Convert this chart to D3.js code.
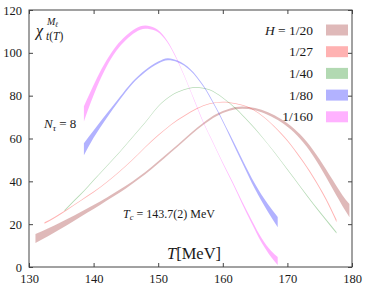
<!DOCTYPE html>
<html>
<head>
<meta charset="utf-8">
<script src="https://cdn.jsdelivr.net/npm/d3@7"></script>
<style>
  body { margin: 0; background: #fff; }
</style>
</head>
<body>
<svg id="chart" width="366" height="288" font-family="'Liberation Serif', 'DejaVu Serif', serif"></svg>
<script>
const xTicks = [130, 140, 150, 160, 170, 180];
const yTicks = [0, 20, 40, 60, 80, 100, 120];
const labels = ["1/20", "1/27", "1/40", "1/80", "1/160"];
const colors = ["rgba(176,80,80,0.4)", "rgba(255,0,0,0.3)", "rgba(0,128,0,0.3)", "rgba(0,0,255,0.3)", "rgba(255,0,255,0.3)"];
const serif = "Liberation Serif";

// H = 1/20
const T20   = [131, 133, 135, 137, 139, 141, 143, 145, 147, 149, 151, 153, 155, 157, 159, 161, 163, 165, 167, 169, 171, 173, 175, 177, 179, 179.6];
const chi20 = [13.3, 16.3, 19.5, 22.8, 26.3, 29.8, 33.5, 37.3, 41.6, 46.3, 51.4, 56.6, 62, 66.9, 70.9, 73.4, 74.4, 73.7, 71.6, 68.4, 63.8, 57.3, 48.6, 38.6, 28.8, 26.3];
const err20 = [2.1, 1.8, 1.5, 1.2, 1.0, 0.8, 0.7, 0.6, 0.5, 0.5, 0.5, 0.5, 0.5, 0.5, 0.5, 0.5, 0.5, 0.5, 0.6, 0.7, 0.9, 1.2, 1.6, 2.1, 2.7, 3.1];
// H = 1/27
const T27   = [132.4, 134, 136, 138, 140, 142, 144, 146, 148, 150, 152, 154, 156, 158, 160, 162, 164, 166, 168, 170, 172, 174, 176, 177.6];
const chi27 = [20.5, 23.2, 27, 31, 35, 39.5, 44.5, 50, 56, 61.5, 66.5, 70.5, 74, 76.3, 77, 76.3, 74.5, 70.8, 65.5, 59, 51, 42, 31.5, 21.5];
const err27 = [0.35, 0.3, 0.25, 0.2, 0.2, 0.2, 0.2, 0.2, 0.2, 0.2, 0.2, 0.2, 0.2, 0.2, 0.2, 0.2, 0.2, 0.2, 0.25, 0.3, 0.35, 0.4, 0.5, 0.65];
// H = 1/40
const T40   = [135.5, 137, 138.5, 140, 142, 144, 146, 148, 150, 152, 154, 155.8, 158, 160, 162, 164, 166, 168, 170, 172, 174, 176, 177.6];
const chi40 = [26.3, 31, 35.5, 40.5, 47, 53.5, 60.5, 67.5, 75, 80, 82.8, 83.9, 82.7, 79, 74, 67.8, 61, 53.5, 45.5, 37.5, 29.5, 22, 16];
const err40 = [0.3, 0.25, 0.2, 0.2, 0.2, 0.2, 0.2, 0.2, 0.2, 0.2, 0.2, 0.2, 0.2, 0.2, 0.2, 0.2, 0.2, 0.2, 0.25, 0.25, 0.3, 0.35, 0.4];
// H = 1/80
const T80   = [138.5, 140, 142, 144, 146, 148, 150, 151.5, 153, 155, 157, 159, 161, 163, 165, 167, 168.5];
const chi80 = [55, 62, 70.5, 78.5, 86, 91.5, 95.5, 97, 96, 92, 84.5, 74, 62, 49.5, 37.5, 27.5, 21];
const err80 = [2.8, 1.7, 1.0, 0.65, 0.5, 0.45, 0.45, 0.5, 0.4, 0.35, 0.35, 0.4, 0.55, 0.85, 1.25, 1.8, 2.4];
// H = 1/160
const T160   = [138.5, 139.5, 140.5, 142, 143.5, 145, 146.5, 148, 149.5, 151, 152.5, 154, 155.5, 157, 158.5, 160, 161.5, 163, 164.5, 166, 167.5, 168.5];
const chi160 = [71.5, 79, 86, 95, 102, 107, 110.5, 112, 111, 107, 99.5, 89.5, 78.5, 67.5, 58, 48.5, 39.5, 30, 21, 12.5, 6, 2.8];
const err160 = [3.6, 2.7, 2.1, 1.5, 1.2, 1.0, 0.9, 0.8, 0.6, 0.45, 0.35, 0.25, 0.25, 0.25, 0.25, 0.3, 0.4, 0.55, 0.75, 1.05, 1.45, 1.9];

const series = [
  { t: T20, m: chi20, e: err20 },
  { t: T27, m: chi27, e: err27 },
  { t: T40, m: chi40, e: err40 },
  { t: T80, m: chi80, e: err80 },
  { t: T160, m: chi160, e: err160 },
];

const margin = { left: 29, right: 14, top: 10, bottom: 21 };
const W = 366, H = 288;

const svg = d3.select("#chart");

const x = d3.scaleLinear().domain([130, 180]).range([margin.left, W - margin.right]);
const y = d3.scaleLinear().domain([0, 120]).range([H - margin.bottom, margin.top]);

// bands
const area = d3.area()
  .x(d => x(d.t))
  .y0(d => y(d.m - d.e))
  .y1(d => y(d.m + d.e))
  .curve(d3.curveMonotoneX);

series.forEach((s, i) => {
  const pts = s.t.map((t, j) => ({ t: t, m: s.m[j], e: s.e[j] }));
  svg.append("path")
    .attr("d", area(pts))
    .attr("fill", colors[i])
    .attr("stroke", "none");
});

// frame and ticks, all pointing inward
const axisColor = "#444";
const tl = 4;

svg.append("rect")
  .attr("x", x(130)).attr("y", y(120))
  .attr("width", x(180) - x(130)).attr("height", y(0) - y(120))
  .attr("fill", "none").attr("stroke", axisColor).attr("stroke-width", 1);

const gx = svg.append("g")
  .attr("transform", "translate(0," + y(0) + ")")
  .call(d3.axisBottom(x).tickValues(xTicks).tickSize(-tl).tickPadding(7).tickFormat(d3.format("d")));
const gxTop = svg.append("g")
  .attr("transform", "translate(0," + y(120) + ")")
  .call(d3.axisTop(x).tickValues(xTicks).tickSize(-tl).tickFormat(""));
const gy = svg.append("g")
  .attr("transform", "translate(" + x(130) + ",0)")
  .call(d3.axisLeft(y).tickValues(yTicks).tickSize(-tl).tickPadding(7).tickFormat(d3.format("d")));
const gyRight = svg.append("g")
  .attr("transform", "translate(" + x(180) + ",0)")
  .call(d3.axisRight(y).tickValues(yTicks).tickSize(-tl).tickFormat(""));

[gx, gxTop, gy, gyRight].forEach(g => {
  g.attr("font-family", serif);
  g.select(".domain").remove();
  g.selectAll("line").attr("stroke", axisColor);
  g.selectAll("text").attr("font-size", "12.5px").attr("fill", "#1a1a1a");
});

// legend
const legend = svg.append("g").attr("font-family", serif);
labels.forEach((lab, i) => {
  const cy = 30 + i * 21.7;
  legend.append("rect")
    .attr("x", 326).attr("y", cy - 5.5)
    .attr("width", 22).attr("height", 11)
    .attr("fill", colors[i]);
  const t = legend.append("text")
    .attr("x", 313).attr("y", cy + 4.5)
    .attr("text-anchor", "end")
    .attr("font-size", "13.5px")
    .attr("fill", "#1a1a1a");
  if (i === 0) {
    t.append("tspan").attr("font-style", "italic").text("H");
    t.append("tspan").text(" = " + lab);
  } else {
    t.text(lab);
  }
});

// y label: chi^{M_l}_{t(T)}
const ylab = svg.append("text").attr("font-family", serif).attr("fill", "#1a1a1a")
  .attr("x", 36).attr("y", 36).attr("font-size", "16px");
ylab.append("tspan").attr("font-style", "italic").text("χ");
ylab.append("tspan").attr("x", 47).attr("y", 25).attr("font-size", "10px").attr("font-style", "italic").text("M");
ylab.append("tspan").attr("y", 27).attr("font-size", "7px").attr("font-style", "italic").text("ℓ");
ylab.append("tspan").attr("x", 46).attr("y", 40).attr("font-size", "11.5px").attr("font-style", "italic").text("t");
ylab.append("tspan").attr("font-size", "11.5px").text("(");
ylab.append("tspan").attr("font-size", "11.5px").attr("font-style", "italic").text("T");
ylab.append("tspan").attr("font-size", "11.5px").text(")");

// N_tau = 8
const nt = svg.append("text").attr("font-family", serif).attr("fill", "#1a1a1a")
  .attr("x", 44).attr("y", 128).attr("font-size", "13px");
nt.append("tspan").attr("font-style", "italic").text("N");
nt.append("tspan").attr("font-size", "9px").attr("font-style", "italic").attr("dy", 2.5).text("τ");
nt.append("tspan").attr("dy", -2.5).text(" = 8");

// T_c
const tc = svg.append("text").attr("font-family", serif).attr("fill", "#1a1a1a")
  .attr("x", 123).attr("y", 218).attr("font-size", "12px");
tc.append("tspan").attr("font-style", "italic").text("T");
tc.append("tspan").attr("font-size", "8.5px").attr("font-style", "italic").attr("dy", 2).text("c");
tc.append("tspan").attr("dy", -2).text(" = 143.7(2) MeV");

// x label
const xl = svg.append("text").attr("font-family", serif).attr("fill", "#1a1a1a")
  .attr("x", 167).attr("y", 259).attr("font-size", "16.5px");
xl.append("tspan").attr("font-style", "italic").text("T");
xl.append("tspan").text("[MeV]");
</script>
</body>
</html>
